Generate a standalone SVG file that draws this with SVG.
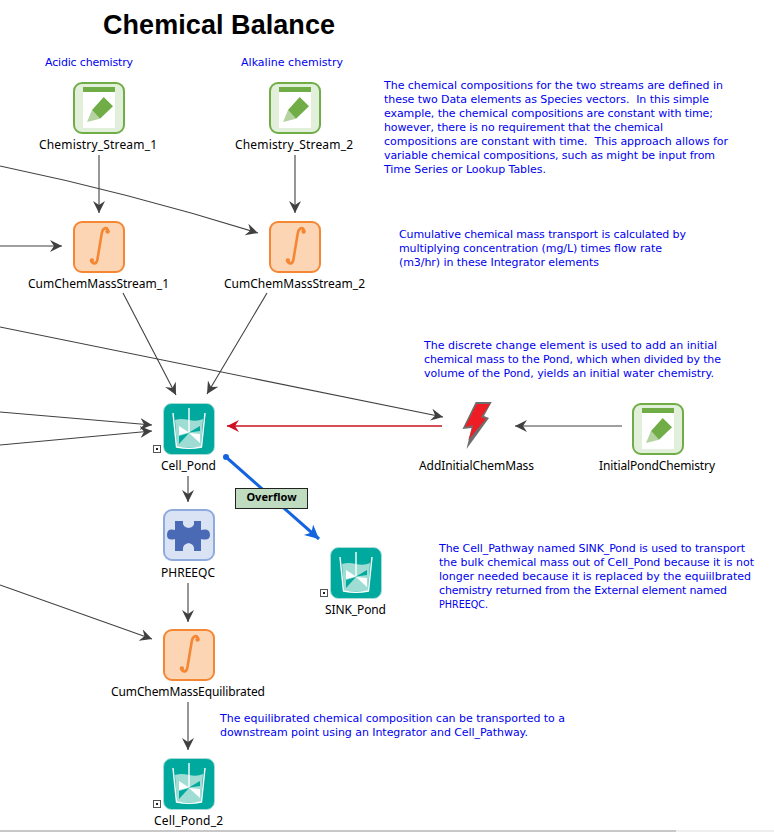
<svg xmlns="http://www.w3.org/2000/svg" width="774" height="832" viewBox="0 0 774 832">
<style>
text{font-family:"Noto Sans","Open Sans","Liberation Sans",sans-serif;white-space:pre}
.lb{font-size:12px;fill:#000;text-anchor:middle}
.nt{font-size:11px;fill:#0000f0;font-family:"DejaVu Sans",sans-serif}
.c{fill:none;stroke:#404040;stroke-width:1.1;marker-end:url(#a)}
</style>
<defs>
<marker id="a" markerUnits="userSpaceOnUse" markerWidth="14" markerHeight="14" refX="12" refY="6" orient="auto"><path d="M0,0L12,6L0,12L4,6z" fill="#404040"/></marker>
<marker id="r" markerUnits="userSpaceOnUse" markerWidth="14" markerHeight="14" refX="12" refY="6" orient="auto"><path d="M0,0L12,6L0,12L4,6z" fill="#d01020"/></marker>
<marker id="b" markerUnits="userSpaceOnUse" markerWidth="16" markerHeight="16" refX="14" refY="7" orient="auto"><path d="M0,0L14,7L0,14L4,7z" fill="#1464e0"/></marker>
<symbol id="data" width="52" height="52" viewBox="0 0 52 52">
<rect x="1" y="1" width="50" height="50" rx="8" fill="#e2efda" stroke="#70ad47" stroke-width="2"/>
<rect x="10" y="5" width="32" height="41" fill="#fff"/><rect x="10" y="5" width="32" height="5" fill="#70ad47"/>
<path d="M14,40L19,28L27,36.700z" fill="#b5d3a0"/><path d="M19,28L30.700,15L40,24.300L27,36.700z" fill="#70ad47"/>
</symbol>
<symbol id="integ" width="52" height="52" viewBox="0 0 52 52">
<rect x="1" y="1" width="50" height="50" rx="8" fill="#fcd5b5" stroke="#f58634" stroke-width="2"/>
<path d="M35,9.500C34,6 30,6 28.800,12L24.500,38C23.800,43.500 20,43.500 18.500,40" fill="none" stroke="#f58634" stroke-width="2.600"/>
<circle cx="34.600" cy="10.500" r="2.200" fill="#f58634"/><circle cx="18.900" cy="39.500" r="2.200" fill="#f58634"/>
</symbol>
<symbol id="cell" width="52" height="52" viewBox="0 0 52 52">
<rect x="0.500" y="0.500" width="51" height="51" rx="8" fill="#00a99d" stroke="#a8dcd6"/>
<path d="M12,17Q18,15 26,17T40,16L38,44H14z" fill="#9fdcd4"/>
<path d="M16,23L26,29.500L16,32z M37,31L26,30L37,40z" fill="#fff"/>
<path d="M37,23L26,29.500L37,28z M16,33L26,30L16,41z" fill="#00a99d"/>
<path d="M10,10L13.500,44Q26,46.500 38.500,44L42,10" fill="none" stroke="#fff" stroke-width="1.400"/>
<path d="M26,5V29" stroke="#fff" stroke-width="1.400"/>
</symbol>
<symbol id="mk" width="8" height="8" viewBox="0 0 8 8"><rect x=".5" y=".5" width="7" height="7" fill="#fff" stroke="#555"/><rect x="3" y="3" width="2" height="2" fill="#222"/></symbol>
</defs>
<rect width="774" height="832" fill="#fff"/>
<rect x="0" y="830" width="676" height="2" fill="#c8c8c8"/>
<rect x="676" y="830" width="98" height="2" fill="#eeeeee"/>
<text x="103" y="34" textLength="232" style="font-family:'Liberation Sans',sans-serif;font-size:27px;font-weight:700">Chemical Balance</text>
<g id="connectors">
<path class="c" d="M99,155V213"/>
<path class="c" d="M295,155V213"/>
<path class="c" d="M0,166Q130,193 258,233"/>
<path class="c" d="M0,246H62"/>
<path class="c" d="M123,293L176,395"/>
<path class="c" d="M267,293L207,394"/>
<path class="c" d="M0,327L443,417"/>
<path class="c" d="M0,412L152,425"/>
<path class="c" d="M0,445L152,431"/>
<path d="M442,426H227" fill="none" stroke="#c81020" stroke-width="1.300" marker-end="url(#r)"/>
<path class="c" d="M622,426H515"/>
<path class="c" d="M188,476V502"/>
<path class="c" d="M188,583V622"/>
<path class="c" d="M0,585L152,639"/>
<path class="c" d="M188,702V750"/>
<circle cx="226" cy="457" r="3" fill="#1464e0"/>
<path d="M226,457L319,539" fill="none" stroke="#1464e0" stroke-width="3" marker-end="url(#b)"/>
</g>
<g id="overflow"><rect x="235.500" y="488.500" width="72" height="20" fill="#bfdcc0" stroke="#222"/><text x="271.500" y="501" text-anchor="middle" style="font-size:11px;font-weight:700">Overflow</text></g>
<g id="Chemistry_Stream_1"><use href="#data" x="73" y="82"/><text class="lb" x="98" y="149" textLength="118">Chemistry_Stream_1</text></g>
<g id="Chemistry_Stream_2"><use href="#data" x="269" y="82"/><text class="lb" x="294" y="149" textLength="118">Chemistry_Stream_2</text></g>
<g id="CumChemMassStream_1"><use href="#integ" x="73" y="221"/><text class="lb" x="98.500" y="288" textLength="141">CumChemMassStream_1</text></g>
<g id="CumChemMassStream_2"><use href="#integ" x="269" y="221"/><text class="lb" x="294.500" y="288" textLength="141">CumChemMassStream_2</text></g>
<g id="Cell_Pond"><use href="#cell" x="163" y="403"/><use href="#mk" x="153" y="445"/><text class="lb" x="188.500" y="470" textLength="55">Cell_Pond</text></g>
<g id="AddInitialChemMass"><path d="M475.700,402H491.700L484,416L489,418L466.500,449L471.500,428L462.500,429z" fill="#6e6e6e"/><path d="M476.700,404H490L481,417L486,418.700L468.300,440L473.300,425.300L465,427z" fill="#ee1c25"/><text class="lb" x="476.500" y="470" textLength="115">AddInitialChemMass</text></g>
<g id="InitialPondChemistry"><use href="#data" x="632" y="403"/><text class="lb" x="657" y="470" textLength="116">InitialPondChemistry</text></g>
<g id="PHREEQC"><rect x="164" y="510" width="50" height="50" rx="8" fill="#dae3f3" stroke="#8faadc" stroke-width="2"/><path transform="translate(163 509)" d="M12,12H20Q19,18 25.700,19Q32,18 31,12H38V21Q47,19 47,26Q47,32 38,30V42H31Q32,35 25.700,34Q19,35 20,42H12V30Q4,32 4,26Q4,19 12,21z" fill="#4a6ab5"/><text class="lb" x="188" y="577" textLength="54">PHREEQC</text></g>
<g id="SINK_Pond"><use href="#cell" x="330" y="547"/><use href="#mk" x="320" y="589"/><text class="lb" x="355.500" y="614" textLength="61">SINK_Pond</text></g>
<g id="CumChemMassEquilibrated"><use href="#integ" x="163" y="629"/><text class="lb" x="188" y="696" textLength="154">CumChemMassEquilibrated</text></g>
<g id="Cell_Pond_2"><use href="#cell" x="163" y="758"/><use href="#mk" x="153" y="800"/><text class="lb" x="188.500" y="825" textLength="69">Cell_Pond_2</text></g>
<g id="notes">
<text class="nt" x="45" y="66" textLength="88">Acidic chemistry</text>
<text class="nt" x="241" y="66" textLength="102">Alkaline chemistry</text>
<text class="nt" x="384" y="89" textLength="339">The chemical compositions for the two streams are defined in</text>
<text class="nt" x="384" y="103" textLength="325">these two Data elements as Species vectors.  In this simple</text>
<text class="nt" x="384" y="117" textLength="329">example, the chemical compositions are constant with time;</text>
<text class="nt" x="384" y="131" textLength="279">however, there is no requirement that the chemical</text>
<text class="nt" x="384" y="145" textLength="344">compositions are constant with time.  This approach allows for</text>
<text class="nt" x="384" y="159" textLength="331">variable chemical compositions, such as might be input from</text>
<text class="nt" x="384" y="173" textLength="162">Time Series or Lookup Tables.</text>
<text class="nt" x="399" y="238" textLength="287">Cumulative chemical mass transport is calculated by</text>
<text class="nt" x="399" y="252" textLength="263">multiplying concentration (mg/L) times flow rate</text>
<text class="nt" x="399" y="266" textLength="200">(m3/hr) in these Integrator elements</text>
<text class="nt" x="424" y="349" textLength="293">The discrete change element is used to add an initial</text>
<text class="nt" x="424" y="363" textLength="297">chemical mass to the Pond, which when divided by the</text>
<text class="nt" x="424" y="377" textLength="290">volume of the Pond, yields an initial water chemistry.</text>
<text class="nt" x="439" y="552" textLength="306">The Cell_Pathway named SINK_Pond is used to transport</text>
<text class="nt" x="439" y="566" textLength="315">the bulk chemical mass out of Cell_Pond because it is not</text>
<text class="nt" x="439" y="580" textLength="312">longer needed because it is replaced by the equiilbrated</text>
<text class="nt" x="439" y="594" textLength="288">chemistry returned from the External element named</text>
<text class="nt" x="439" y="608" textLength="49" lengthAdjust="spacingAndGlyphs">PHREEQC.</text>
<text class="nt" x="220" y="722" textLength="345">The equilibrated chemical composition can be transported to a</text>
<text class="nt" x="220" y="736" textLength="308">downstream point using an Integrator and Cell_Pathway.</text>
</g>
</svg>
